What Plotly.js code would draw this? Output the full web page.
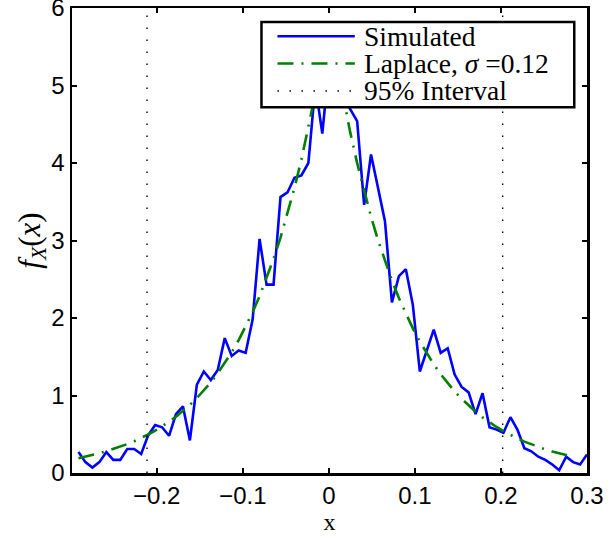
<!DOCTYPE html>
<html>
<head>
<meta charset="utf-8">
<script src="https://cdn.plot.ly/plotly-3.0.1.min.js"></script>
<style>html,body{margin:0;padding:0;background:#fff;}#chart{width:608px;height:536px;}</style>
</head>
<body>
<div id="chart"></div>
<script>
// Bin centres of the simulated histogram
const binX = [-0.2910,-0.2829,-0.2748,-0.2667,-0.2586,-0.2505,-0.2424,-0.2343,-0.2262,-0.2181,
  -0.2100,-0.2019,-0.1938,-0.1857,-0.1777,-0.1696,-0.1615,-0.1534,-0.1453,-0.1372,
  -0.1291,-0.1210,-0.1129,-0.1048,-0.0967,-0.0886,-0.0805,-0.0724,-0.0643,-0.0562,
  -0.0481,-0.0400,-0.0319,-0.0238,-0.0157,-0.0076,0.0005,0.0086,0.0167,0.0248,
  0.0329,0.0410,0.0490,0.0571,0.0652,0.0733,0.0814,0.0895,0.0976,0.1057,
  0.1138,0.1219,0.1300,0.1381,0.1462,0.1543,0.1624,0.1705,0.1786,0.1867,
  0.1948,0.2029,0.2110,0.2191,0.2272,0.2353,0.2434,0.2515,0.2596,0.2677,
  0.2758,0.2839,0.2920,0.3000];
// Simulated density values
const simulatedY = [0.27,0.14,0.07,0.14,0.27,0.17,0.17,0.31,0.31,0.245,
  0.485,0.62,0.59,0.48,0.76,0.86,0.42,1.14,1.31,1.20,
  1.33,1.74,1.51,1.58,1.55,1.98,3.02,2.43,2.43,3.56,
  3.62,3.81,3.84,4.00,5.00,4.38,5.30,5.00,4.85,4.70,
  4.54,3.46,4.11,3.68,3.25,2.20,2.54,2.63,2.17,1.31,
  1.57,1.85,1.55,1.61,1.27,1.11,1.04,0.76,1.03,0.59,
  0.56,0.52,0.72,0.56,0.32,0.28,0.21,0.17,0.11,0.035,
  0.21,0.14,0.11,0.24];
// Laplace fit values (sigma = 0.12), read at the same bin centres
const laplaceX = binX.slice(0, 72);
const laplaceY = [0.191,0.210,0.231,0.255,0.280,0.308,0.339,0.373,0.410,0.451,
  0.497,0.546,0.601,0.661,0.726,0.799,0.879,0.967,1.064,1.170,
  1.287,1.416,1.558,1.715,1.886,2.074,2.282,2.510,2.762,3.038,
  3.341,3.677,4.044,4.452,4.895,5.386,5.855,5.323,4.838,4.398,
  3.998,3.634,3.307,3.006,2.732,2.484,2.258,2.053,1.866,1.696,
  1.542,1.401,1.274,1.157,1.052,0.957,0.870,0.791,0.718,0.653,
  0.594,0.540,0.491,0.446,0.405,0.369,0.335,0.305,0.277,0.252,
  0.229,0.208];
// 95% interval bounds
const intervalX = [-0.2113, 0.2020];
const yLimits = [0, 6];
const legendLabels = ["Simulated", "Laplace, <i>σ</i> =0.12", "95% Interval"];
const xTicks = [-0.2, -0.1, 0, 0.1, 0.2, 0.3];
const xTickText = ["\u22120.2", "\u22120.1", "0", "0.1", "0.2", "0.3"];
const yTicks = [0, 1, 2, 3, 4, 5, 6];

const blue = '#0000ff', green = '#008000';
const dashDot = '16px,8px,2px,8px';
const dotted = '1.5px,10.5px';

const traces = [
  {x: binX, y: simulatedY, type: 'scatter', mode: 'lines', line: {color: blue, width: 2.6}, showlegend: false},
  {x: laplaceX, y: laplaceY, type: 'scatter', mode: 'lines', line: {color: green, width: 2.6, dash: dashDot}, showlegend: false}
];
intervalX.forEach(v => traces.push({x: [v, v], y: yLimits, type: 'scatter', mode: 'lines',
  line: {color: '#000', width: 1.4, dash: dotted}, showlegend: false}));

// Legend box (positions in data units of the axes)
const box = {x0: -0.0783, x1: 0.2852, y0: 4.72, y1: 5.82};
const rowY = [5.635, 5.283, 4.93];
const sampleX = [-0.0597, 0.0302];
const textX = 0.0385;
const sampleStyles = [
  {color: blue, width: 2.6, dash: 'solid'},
  {color: green, width: 2.6, dash: dashDot},
  {color: '#000', width: 1.4, dash: dotted}
];
const shapes = [{type: 'rect', xref: 'x', yref: 'y', x0: box.x0, x1: box.x1, y0: box.y0, y1: box.y1,
  fillcolor: '#fff', line: {color: '#000', width: 2.5}, layer: 'above'}];
const annotations = [];
rowY.forEach((ry, i) => {
  shapes.push({type: 'line', xref: 'x', yref: 'y', x0: sampleX[0], x1: sampleX[1], y0: ry, y1: ry,
    line: sampleStyles[i], layer: 'above'});
  annotations.push({xref: 'x', yref: 'y', x: textX, y: ry, xanchor: 'left', yanchor: 'middle',
    text: legendLabels[i], showarrow: false,
    font: {family: 'Liberation Serif, Times New Roman, serif', size: 27.5, color: '#000'}});
});

const layout = {
  width: 608, height: 536,
  margin: {l: 72, r: 21, t: 8, b: 63, pad: 0},
  paper_bgcolor: '#fff', plot_bgcolor: '#fff',
  showlegend: false,
  xaxis: {
    range: [-0.2985, 0.3], tickvals: xTicks, ticktext: xTickText,
    showgrid: false, zeroline: false, showline: true, linecolor: '#000', linewidth: 2.5,
    mirror: 'ticks', ticks: 'inside', ticklen: 5, tickwidth: 2, tickcolor: '#000',
    ticklabeloverflow: 'allow',
    tickfont: {family: 'Liberation Sans, Arial, sans-serif', size: 24, color: '#000'},
    title: {text: 'x', font: {family: 'Liberation Serif, Times New Roman, serif', size: 24, color: '#000'}, standoff: 0}
  },
  yaxis: {
    range: yLimits, tickvals: yTicks,
    showgrid: false, zeroline: false, showline: true, linecolor: '#000', linewidth: 2.5,
    mirror: 'ticks', ticks: 'inside', ticklen: 5, tickwidth: 2, tickcolor: '#000',
    ticklabeloverflow: 'allow',
    tickfont: {family: 'Liberation Sans, Arial, sans-serif', size: 24, color: '#000'},
    title: {text: '<i>f</i><sub><i>X</i></sub>(<i>x</i>)', font: {family: 'Liberation Serif, Times New Roman, serif', size: 31, color: '#000'}, standoff: 2}
  },
  shapes: shapes,
  annotations: annotations
};

Plotly.newPlot('chart', traces, layout, {staticPlot: true, displayModeBar: false});
</script>
</body>
</html>
